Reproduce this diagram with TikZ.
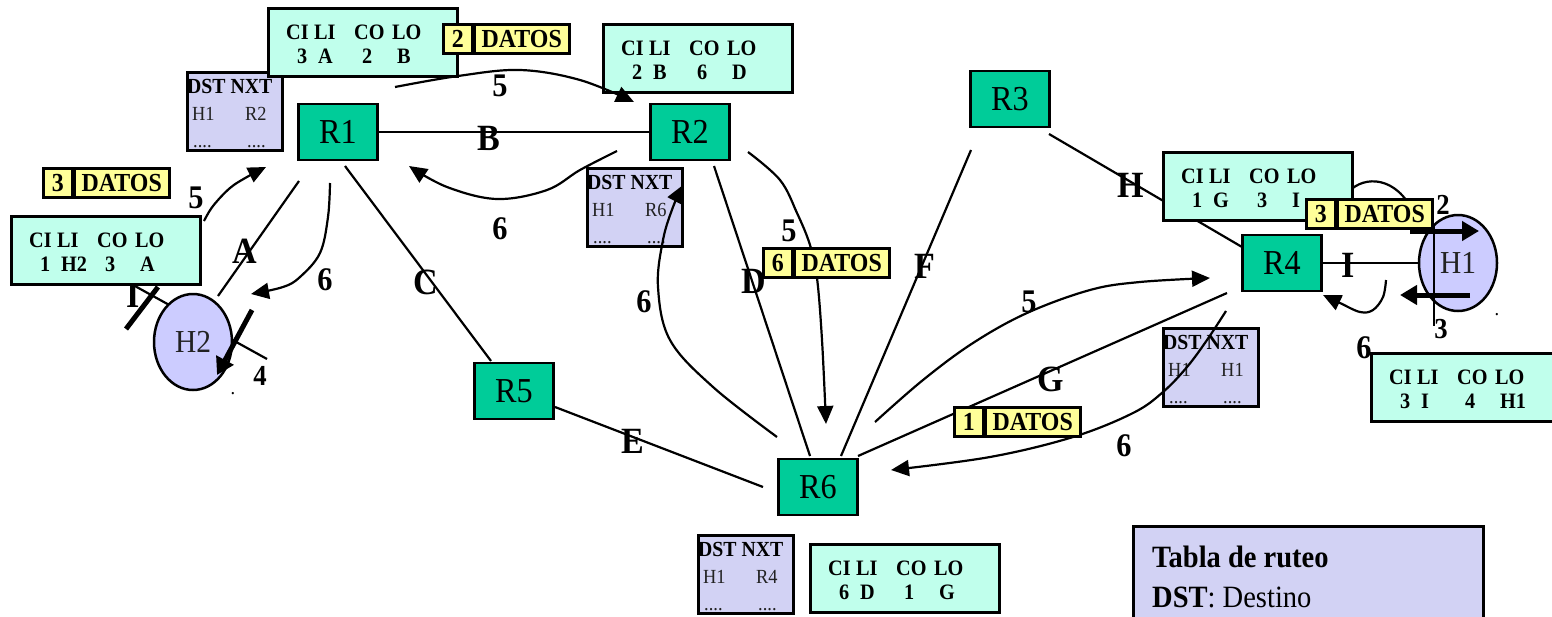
\documentclass[tikz,border=0pt]{standalone}
\usepackage{fontspec}
\setmainfont{Liberation Serif}[FakeStretch=0.92]
\usetikzlibrary{arrows.meta,shapes.geometric}

\definecolor{routergreen}{HTML}{00CC99}
\definecolor{tablemint}{HTML}{C0FFEC}
\definecolor{dstlav}{HTML}{D2D2F4}
\definecolor{hostlav}{HTML}{CCCCFF}
\definecolor{pktyellow}{HTML}{FFFF99}
\definecolor{inkgray}{HTML}{222222}

\newcommand{\fs}[1]{\fontsize{#1}{#1}\selectfont}

\tikzset{
  router/.style={draw, line width=2.5pt, fill=routergreen, minimum width=79pt,
    minimum height=56pt, inner sep=0pt, font=\fs{35}},
  host/.style={ellipse, draw, line width=2.5pt, fill=hostlav, inner sep=0pt,
    minimum width=78pt, minimum height=96pt, font=\fs{32}, text=inkgray},
  tbox/.style={draw, line width=2.5pt, fill=tablemint, anchor=north west,
    minimum width=189pt, minimum height=68pt, inner sep=0pt},
  dbox/.style={draw, line width=2.5pt, fill=dstlav, anchor=north west,
    minimum width=95pt, minimum height=78pt, inner sep=0pt},
  tok/.style={anchor=base west, inner sep=0pt, font=\bfseries\fs{22}},
  dtok/.style={anchor=base west, inner sep=0pt, font=\fs{20}, text=inkgray},
  link/.style={line width=2.2pt},
  flow/.style={line width=2.2pt, -{Triangle[length=18pt,width=16pt]}},
  bigflow/.style={line width=5pt, -{Triangle[length=17pt,width=19pt]}},
  linklbl/.style={font=\bfseries\fs{37}, inner sep=0pt},
  steplbl/.style={font=\bfseries\fs{33}, inner sep=0pt},
  pcell/.style={draw, line width=2.5pt, fill=pktyellow, anchor=north west,
    minimum height=29pt, inner sep=0pt, font=\bfseries\fs{26}},
  speck/.style={anchor=base, inner sep=0pt, font=\fs{20}}
}

% connection table of a router or host: CI LI / CO LO
\newcommand{\citable}[7]{%
  \node[tbox] (#1) at (#2,#3) {};
  \begin{scope}[shift={(#2,#3)}]
    \node[tok] (#1-ci) at (19,32.5) {CI};
    \node[tok] (#1-li) at (47,32.5) {LI};
    \node[tok] (#1-co) at (87,32.5) {CO};
    \node[tok] (#1-lo) at (125,32.5) {LO};
    \node[tok] (#1-v1) at (30,56.5) {#4};
    \node[tok] (#1-v2) at (51,56.5) {#5};
    \node[tok] (#1-v3) at (95,56.5) {#6};
    \node[tok] (#1-v4) at (130,56.5) {#7};
  \end{scope}}

% routing table: DST NXT
\newcommand{\dsttable}[5]{%
  \node[dbox] (#1) at (#2,#3) {};
  \begin{scope}[shift={(#2,#3)}]
    \node[tok, font=\bfseries\fs{21.5}] (#1-head) at (1,22) {DST NXT};
    \node[dtok] (#1-dst) at (6,49) {#4};
    \node[dtok] (#1-nxt) at (59,49) {#5};
    \node[dtok] (#1-d1) at (7,76) {....};
    \node[dtok] (#1-d2) at (61,76) {....};
  \end{scope}}

% data packet: label number + DATOS
\newcommand{\packet}[4]{%
  \begin{scope}[shift={(#2,#3)}]
    \node[pcell, minimum width=29pt] (#1-n) at (0,0) {#4};
    \node[pcell, minimum width=95pt] (#1) at (31,0) {DATOS};
  \end{scope}}

\begin{document}
\begin{tikzpicture}[x=1pt,y=-1pt]
\useasboundingbox (0,0) rectangle (1552,616);

% ---------- free ends of the links ----------
\coordinate (a-top) at (299,181);
\coordinate (a-bot) at (218,296);
\coordinate (c-top) at (345,166);
\coordinate (c-bot) at (491,361);
\coordinate (d-top) at (714,166);
\coordinate (d-bot) at (810,456);
\coordinate (e-left) at (555,407);
\coordinate (e-right) at (763,487);
\coordinate (f-bot) at (841,456);
\coordinate (f-top) at (971,150);
\coordinate (g-left) at (858,456);
\coordinate (g-right) at (1227,293);
\coordinate (h-top) at (1049,134);
\coordinate (h-bot) at (1242,247);
\coordinate (h2-in) at (115,275);
\coordinate (h2-out) at (267,359);
\coordinate (arc-s) at (1345,196);
\coordinate (arc-e) at (1410,206);

% ---------- routers (placed first, drawn again on top of the links) ----------
\path
  node[router] (R1) at (338,132) {R1}
  node[router] (R2) at (690,132) {R2}
  node[router] (R3) at (1010,99) {R3}
  node[router] (R4) at (1282,263) {R4}
  node[router] (R5) at (514,391) {R5}
  node[router] (R6) at (818,487) {R6};

% ---------- links ----------
\draw[link] (R1.east) -- (R2.west);
\draw[link] (a-top) -- (a-bot);
\draw[link] (c-top) -- (c-bot);
\draw[link] (d-top) -- (d-bot);
\draw[link] (e-left) -- (e-right);
\draw[link] (f-bot) -- (f-top);
\draw[link] (g-left) -- (g-right);
\draw[link] (h-top) -- (h-bot);
\draw[link] (h2-in) -- (h2-out);
\draw[link] (arc-s) .. controls (1360,175) and (1392,175) .. (arc-e);

% ---------- link names ----------
\node[linklbl] (lA) at (245,251) {A};
\node[linklbl] (lB) at (489,138) {B};
\node[linklbl] (lC) at (426,282) {C};
\node[linklbl] (lD) at (754,281) {D};
\node[linklbl] (lE) at (633,441) {E};
\node[linklbl] (lF) at (925,266) {F};
\node[linklbl] (lG) at (1051,379) {G};
\node[linklbl] (lH) at (1131,185) {H};
\node[linklbl] (lI) at (1348,265) {I};
\node[linklbl] (lI2) at (133,295) {I};

% ---------- routers and hosts ----------
\node[router] at (R1) {R1};
\node[router] at (R2) {R2};
\node[router] at (R3) {R3};
\node[router] at (R4) {R4};
\node[router] at (R5) {R5};
\node[router] at (R6) {R6};
\node[host] (H2) at (193,342) {H2};
\node[host] (H1) at (1458,263) {H1};
\draw[link] (R4.east) -- (H1.west);

% ---------- routing tables ----------
\dsttable{dR1}{186}{71}{H1}{R2}
\dsttable{dR2}{586}{167}{H1}{R6}
\dsttable{dR4}{1162}{327}{H1}{H1}
\dsttable{dR6}{697}{534}{H1}{R4}

% ---------- connection tables ----------
\citable{tR1}{267}{7}{3}{A}{2}{B}
\citable{tR2}{602}{23}{2}{B}{6}{D}
\citable{tH2}{10}{215}{1}{H2}{3}{A}
\citable{tR4}{1162}{151}{1}{G}{3}{I}
\citable{tH1}{1370}{352}{3}{I}{4}{H1}
\citable{tR6}{809}{543}{6}{D}{1}{G}

% ---------- message flow ----------
\coordinate (s1) at (395,87);    \coordinate (t1) at (634,102);
\coordinate (s2) at (617,151);   \coordinate (t2) at (409,166);
\coordinate (s3) at (204,221);   \coordinate (t3) at (266,167);
\coordinate (s4) at (330,183);   \coordinate (t4) at (251,294);
\coordinate (s5) at (748,152);   \coordinate (t5) at (826,424);
\coordinate (s6) at (777,437);   \coordinate (t6) at (683,185);
\coordinate (s7) at (875,422);   \coordinate (t7) at (1210,278);
\coordinate (s8) at (1226,311);  \coordinate (t8) at (891,470);
\coordinate (s9) at (1386,280);  \coordinate (t9) at (1323,295);

\draw[flow] plot[smooth, tension=0.6] coordinates
  {(s1) (458,76) (520,70) (580,80) (t1)};
\draw[flow] plot[smooth, tension=0.6] coordinates
  {(s2) (580,170) (547,190) (497,199) (447,187) (t2)};
\draw[flow] plot[smooth, tension=0.6] coordinates
  {(s3) (213,206) (230,188) (247,177) (t3)};
\draw[flow] plot[smooth, tension=0.6] coordinates
  {(s4) (328,217) (320,253) (300,277) (283,287) (t4)};
\draw[flow] plot[smooth, tension=0.6] coordinates
  {(s5) (780,180) (797,213) (810,245) (817,278) (822,340) (t5)};
\draw[flow] plot[smooth, tension=0.6] coordinates
  {(s6) (713,387) (670,340) (658,287) (663,240) (673,207) (t6)};
\draw[flow] plot[smooth, tension=0.6] coordinates
  {(s7) (923,380) (973,343) (1027,313) (1090,290) (1140,282) (t7)};
\draw[flow] plot[smooth, tension=0.6] coordinates
  {(s8) (1207,340) (1187,367) (1163,392) (1133,413) (1073,437) (990,457) (t8)};
\draw[flow] plot[smooth, tension=0.6] coordinates
  {(s9) (1383,297) (1373,310) (1360,312) (1340,303) (t9)};

% interface crossings at the hosts
\coordinate (h1-out-s) at (1410,231);  \coordinate (h1-out-t) at (1479,231);
\coordinate (h1-in-s) at (1470,295);   \coordinate (h1-in-t) at (1400,295);
\coordinate (h1-v-top) at (1434,226);  \coordinate (h1-v-bot) at (1434,326);
\coordinate (h2-in-s) at (252,310);    \coordinate (h2-in-t) at (217,375);
\coordinate (h2-bar-a) at (126,329);   \coordinate (h2-bar-b) at (158,287);
\draw[link] (h1-v-top) -- (h1-v-bot);
\draw[bigflow] (h1-out-s) -- (h1-out-t);
\draw[bigflow] (h1-in-s) -- (h1-in-t);
\draw[bigflow] (h2-in-s) -- (h2-in-t);
\draw[line width=5pt] (h2-bar-a) -- (h2-bar-b);

% ---------- step numbers ----------
\node[steplbl] (n1) at (500,86) {5};
\node[steplbl] (n2) at (500,229) {6};
\node[steplbl] (n3) at (196,198) {5};
\node[steplbl] (n4) at (325,280) {6};
\node[steplbl, font=\bfseries\fs{29}] (n5) at (260,376) {4};
\node[steplbl] (n6) at (644,302) {6};
\node[steplbl] (n7) at (789,231) {5};
\node[steplbl] (n8) at (1029,302) {5};
\node[steplbl] (n9) at (1124,446) {6};
\node[steplbl, font=\bfseries\fs{29}] (n10) at (1443,205) {2};
\node[steplbl, font=\bfseries\fs{29}] (n11) at (1441,329) {3};
\node[steplbl] (n12) at (1364,348) {6};
\node[speck] (dot1) at (233,394) {.};
\node[speck] (dot2) at (1497,315) {.};

% ---------- packets ----------
\packet{p1}{442}{23}{2}
\packet{p2}{42}{167}{3}
\packet{p3}{762}{247}{6}
\packet{p4}{1305}{198}{3}
\packet{p5}{953}{406}{1}

% ---------- legend ----------
\node[draw, line width=2.5pt, fill=dstlav, anchor=north west,
      minimum width=350pt, minimum height=110pt, inner sep=0pt] (legend) at (1132,525) {};
\node[anchor=base west, inner sep=0pt, font=\bfseries\fs{31}] (legend-title) at (1152,567) {Tabla de ruteo};
\node[anchor=base west, inner sep=0pt, font=\fs{31}] (legend-dst) at (1152,607) {\textbf{DST}: Destino};

\end{tikzpicture}
\end{document}
